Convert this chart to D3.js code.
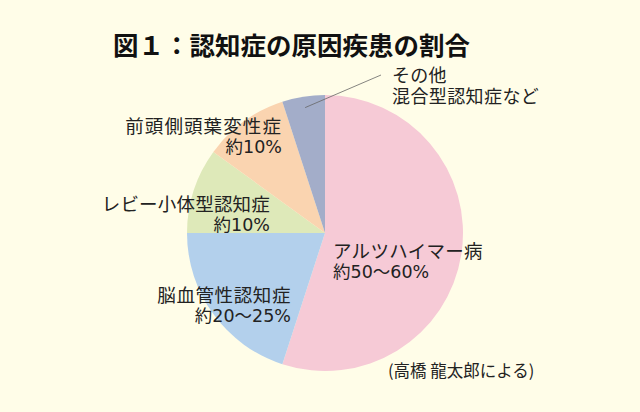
<!DOCTYPE html>
<html><head><meta charset="utf-8">
<script src="https://cdn.jsdelivr.net/npm/d3@7"></script>
<style>
html,body{margin:0;padding:0;background:#fffde8;}
svg{display:block;}
</style></head>
<body>
<svg id="chart" width="640" height="412" font-family='"Noto Sans CJK JP","Noto Sans",sans-serif'></svg>
<script>
const title = "図１：認知症の原因疾患の割合";
const categories = ["アルツハイマー病","脳血管性認知症","レビー小体型認知症","前頭側頭葉変性症","その他"];
const values = [55, 20, 10, 10, 5];
const valueLabels = ["約50〜60%","約20〜25%","約10%","約10%",""];
const colors = ["#f6cad6","#b3d0ec","#dee9b9","#fad4b0","#a3adc9"];
const otherLabel = ["その他","混合型認知症など"];
const source = "(高橋 龍太郎による)";

const svg = d3.select("#chart");
const W = 640, H = 412;
svg.append("rect").attr("width",W).attr("height",H).attr("fill","#fffde8");

const cx = 325, cy = 233, r = 138;
const data = categories.map((c,i)=>({cat:c, value:values[i], lab:valueLabels[i], color:colors[i]}));
const pie = d3.pie().value(d=>d.value).sort(null).startAngle(0).endAngle(2*Math.PI);
const arc = d3.arc().innerRadius(0).outerRadius(r);
const arcs = pie(data);

const g = svg.append("g").attr("transform",`translate(${cx},${cy})`);
g.selectAll("path").data(arcs).join("path")
  .attr("d",arc).attr("fill",d=>d.data.color);

svg.append("text").attr("x",113).attr("y",55)
  .attr("font-size",25.5).attr("font-weight","bold").attr("fill","#111")
  .text(title);

const labelPos = [
  {x:333, y:258, anchor:"start", ls:0.3},
  {x:291, y:302, anchor:"end", ls:0.6},
  {x:270, y:211, anchor:"end", ls:0.2},
  {x:282, y:133, anchor:"end", ls:1.1}
];
const fs = 18.5;
const numFont = '"DejaVu Sans","Noto Sans CJK JP",sans-serif';
arcs.slice(0,4).forEach((a,i)=>{
  const p = labelPos[i];
  svg.append("text").attr("x",p.x).attr("y",p.y).attr("fill","#222")
    .attr("text-anchor",p.anchor).attr("font-size",fs)
    .attr("letter-spacing",p.ls).text(a.data.cat);
  svg.append("text").attr("x",p.x).attr("y",p.y+20).attr("fill","#222")
    .attr("text-anchor",p.anchor).attr("font-size",17.5)
    .style("font-family",numFont).text(a.data.lab);
});

const oa = arcs[4];
const mid = (oa.startAngle+oa.endAngle)/2;
const p0 = [cx + Math.sin(mid)*r*0.92, cy - Math.cos(mid)*r*0.92];
svg.append("line").attr("x1",p0[0]).attr("y1",p0[1]).attr("x2",381).attr("y2",75)
  .attr("stroke","#666").attr("stroke-width",0.8);
svg.append("text").attr("x",392).attr("y",82).attr("font-size",18).attr("letter-spacing",0.3).attr("fill","#222").text(otherLabel[0]);
svg.append("text").attr("x",392).attr("y",102.5).attr("font-size",18).attr("letter-spacing",0.4).attr("fill","#222")
  .style("font-family",numFont).text(otherLabel[1]);

svg.append("text").attr("x",388).attr("y",377).attr("font-size",16.5).attr("fill","#222").text(source);
</script>
</body></html>
